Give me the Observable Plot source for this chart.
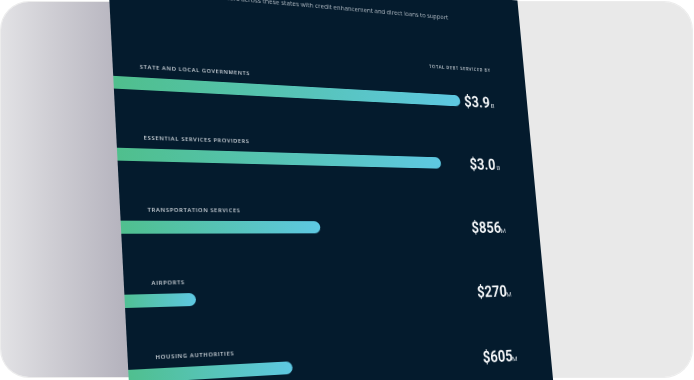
<!DOCTYPE html>
<html>
<head>
<meta charset="utf-8">
<script src="https://cdn.jsdelivr.net/npm/d3@7"></script>
<script src="https://cdn.jsdelivr.net/npm/@observablehq/plot@0.6"></script>
<style>
  html, body { margin: 0; padding: 0; background: #ffffff; width: 694px; height: 380px; overflow: hidden; }
  #card {
    position: absolute; left: 1px; top: 2px; width: 691px; height: 375px;
    border-radius: 28px; overflow: hidden;
    background: linear-gradient(90deg, #e2e2e5 0px, #cfced4 50px, #b3b1bc 128px, #e9e9e9 130px, #e9e9e9 100%);
    box-shadow: 0 0 0 1px #ececec;
  }
  #panel {
    position: absolute; left: 0; top: 0; width: 490px; height: 460px;
    transform-origin: 0 0; background: #041b2d; overflow: hidden;
  }
  #panel svg { display: block; background: transparent; }
</style>
</head>
<body>
<div id="card"></div>
<div id="panel"></div>
<script>
// ---- data ----
const categories = ["STATE AND LOCAL GOVERNMENTS", "ESSENTIAL SERVICES PROVIDERS", "TRANSPORTATION SERVICES", "AIRPORTS", "HOUSING AUTHORITIES"];
const values = [3.9e9, 3.0e9, 856e6, 270e6, 605e6];
const amountLabels = ["$3.9", "$3.0", "$856", "$270", "$605"];
const unitLabels = ["B", "B", "M", "M", "M"];
const headerText = "TOTAL DEBT SERVICED BY";
const subtitleText = "We have helped public issuers across these states with credit enhancement and direct loans to support";

// ---- layout ----
const W = 490, H = 460;
const xDomain = [1.5e8, 8.2e9];
const barBase = 1.4e8;

const rows = categories.map((c, i) => ({
  name: c, value: values[i], amount: amountLabels[i], unit: unitLabels[i]
}));

const chart = Plot.plot({
  width: W, height: H,
  marginLeft: 0, marginRight: 0, marginTop: 0, marginBottom: 0,
  style: { background: "transparent", overflow: "hidden" },
  x: { type: "log", domain: xDomain, range: [0, W], axis: null },
  y: { type: "band", domain: categories, range: [90, 456], paddingInner: 0.82, paddingOuter: 0.41, axis: null },
  marks: [
    Plot.barX(rows, { y: "name", x1: () => barBase, x2: "value", fill: "url(#barGrad)", rx: 6.6, clip: true }),
    Plot.text(rows, { y: "name", text: "name", frameAnchor: "left", dx: 27, dy: -18, textAnchor: "start",
      fill: "#d3d9df", fontSize: 6, fontFamily: "Open Sans", fontWeight: 600 }),
    Plot.text(rows, { y: "name", text: "unit", frameAnchor: "right", dx: -46, dy: 3.5, textAnchor: "end",
      fill: "#c9d0d6", fontSize: 8, fontFamily: "Roboto" }),
    Plot.text(rows, { y: "name", text: "amount", frameAnchor: "right", dx: -52, textAnchor: "end",
      fill: "#f4f6f8", fontSize: 18, fontFamily: "Roboto", fontWeight: "bold" }),
    Plot.text([headerText], { text: d => d, frameAnchor: "top-right", dx: -47, dy: 86, textAnchor: "end",
      fill: "#bfc7ce", fontSize: 5.5, fontFamily: "Open Sans", fontWeight: 600 }),
    Plot.text([subtitleText], { text: d => d, frameAnchor: "top-right", dx: -98, dy: 25, textAnchor: "end",
      fill: "#aab4bd", fontSize: 7.5, fontFamily: "Open Sans" })
  ]
});

d3.select(chart).insert("defs", ":first-child").html(
  '<linearGradient id="barGrad" x1="0" y1="0" x2="1" y2="0">' +
  '<stop offset="0" stop-color="#4fbf8b"/><stop offset="1" stop-color="#5ec8e2"/></linearGradient>'
);
const allText = d3.select(chart).selectAll("text");
allText.filter(function () { return categories.includes(this.textContent); })
  .attr("letter-spacing", "0.7").style("letter-spacing", "0.7px");
allText.filter(function () { return this.textContent === headerText; })
  .attr("letter-spacing", "0.65").style("letter-spacing", "0.65px");
// slightly condensed look for the large amounts
allText.filter(function () { return amountLabels.includes(this.textContent); }).each(function () {
  const t = this.getAttribute("transform") || "";
  this.setAttribute("transform", t + " scale(0.95,1)");
});

const panel = document.getElementById("panel");
panel.appendChild(chart);

// ---- perspective (flat panel -> photographed quad) ----
const quad = [[107.3, -40], [517.4, 0.6], [554.0, 389.7], [130.8, 420]];
function squareToQuad(p) {
  const [x0, y0] = p[0], [x1, y1] = p[1], [x2, y2] = p[2], [x3, y3] = p[3];
  const sx = x0 - x1 + x2 - x3, sy = y0 - y1 + y2 - y3;
  const dx1 = x1 - x2, dx2 = x3 - x2, dy1 = y1 - y2, dy2 = y3 - y2;
  const den = dx1 * dy2 - dx2 * dy1;
  const g = (sx * dy2 - sy * dx2) / den, h = (dx1 * sy - dy1 * sx) / den;
  return { a: x1 - x0 + g * x1, b: x3 - x0 + h * x3, c: x0, d: y1 - y0 + g * y1, e: y3 - y0 + h * y3, f: y0, g, h };
}
const m = squareToQuad(quad);
panel.style.transform = `matrix3d(${m.a / W},${m.d / W},0,${m.g / W},${m.b / H},${m.e / H},0,${m.h / H},0,0,1,0,${m.c},${m.f},0,1)`;
</script>
</body>
</html>
